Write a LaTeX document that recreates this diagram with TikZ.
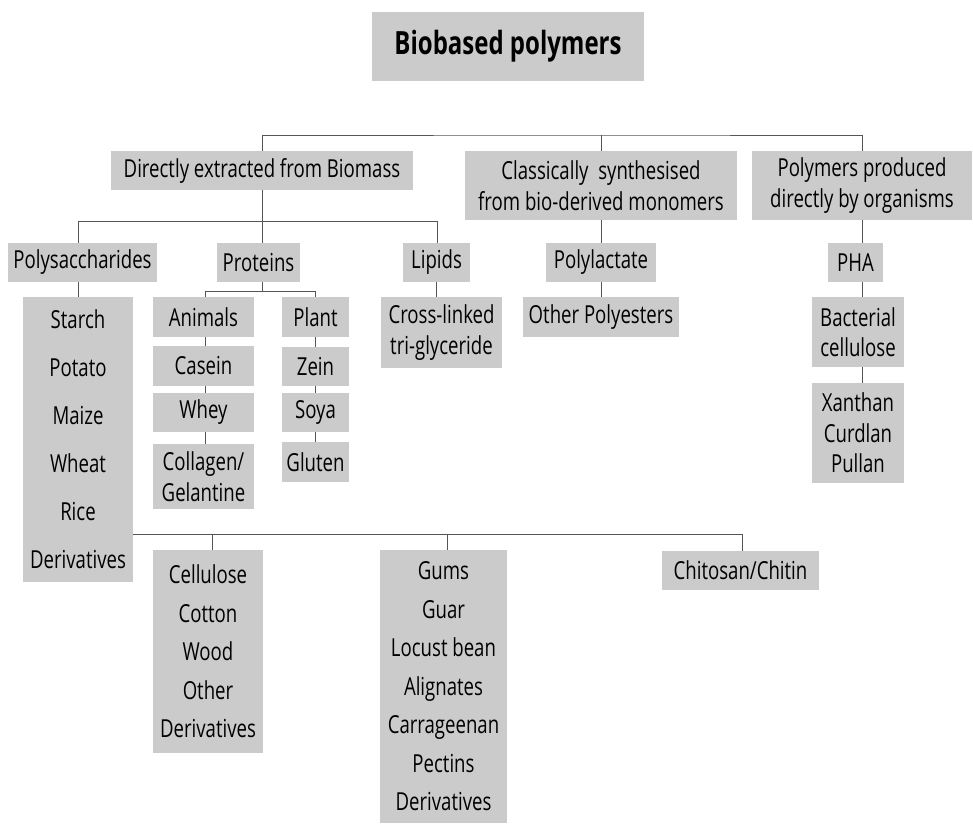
\documentclass[tikz,border=0pt]{standalone}
\usepackage{fontspec}
\setmainfont{Open Sans}[FakeStretch=0.75]
\definecolor{boxgray}{RGB}{203,203,203}
\definecolor{linegray}{RGB}{85,85,85}
\tikzset{
  box/.style={fill=boxgray, inner sep=0pt, align=center},
  link/.style={draw=linegray, line width=1pt},
}
\begin{document}
\begin{tikzpicture}[x=1pt,y=-1pt,font=\fontsize{24.8}{30.5}\selectfont]
  \useasboundingbox (0,0) rectangle (973,823);

  \node[box,minimum width=272,minimum height=69,font=\bfseries\fontsize{32}{36}\selectfont] (title) at (508,46.5) {Biobased polymers};

  \node[box,minimum width=302,minimum height=39] (direct) at (262,170.5) {Directly extracted from Biomass};
  \node[box,minimum width=272,minimum height=69] (classic) at (601,185.5) {Classically\ \ synthesised\\from bio-derived monomers};
  \node[box,minimum width=220,minimum height=69] (organism) at (862,185.5) {Polymers produced\\directly by organisms};

  \node[box,minimum width=149,minimum height=39] (polysac) at (82.5,262.5) {Polysaccharides};
  \node[box,minimum width=83,minimum height=39] (proteins) at (258.5,262.5) {Proteins};
  \node[box,minimum width=67,minimum height=39] (lipids) at (436.5,262.5) {Lipids};
  \node[box,minimum width=110,minimum height=39] (polylactate) at (601,262.5) {Polylactate};
  \node[box,minimum width=55,minimum height=39] (pha) at (855.5,262.5) {PHA};

  \node[box,minimum width=110,minimum height=285] (starch) at (78,439.5) {Starch\\[17.5pt]Potato\\[17.5pt]Maize\\[17.5pt]Wheat\\[17.5pt]Rice\\[17.5pt]Derivatives};
  \node[box,minimum width=101,minimum height=40] (animals) at (203.5,317) {Animals};
  \node[box,minimum width=101,minimum height=40] (casein) at (203.5,366) {Casein};
  \node[box,minimum width=101,minimum height=39] (whey) at (203.5,412.5) {Whey};
  \node[box,minimum width=101,minimum height=65] (collagen) at (203.5,476.5) {Collagen/\\Gelantine};
  \node[box,minimum width=67,minimum height=40] (plant) at (315.5,317) {Plant};
  \node[box,minimum width=67,minimum height=39] (zein) at (315.5,366.5) {Zein};
  \node[box,minimum width=67,minimum height=39] (soya) at (315.5,412.5) {Soya};
  \node[box,minimum width=67,minimum height=40] (gluten) at (315.5,462) {Gluten};
  \node[box,minimum width=121,minimum height=71] (crosslinked) at (441.5,332.5) {Cross-linked\\tri-glyceride};
  \node[box,minimum width=156,minimum height=40] (otherpoly) at (601,317) {Other Polyesters};
  \node[box,minimum width=92,minimum height=70] (bacterial) at (858,332) {Bacterial\\cellulose};
  \node[box,minimum width=92,minimum height=100] (xanthan) at (858,433) {Xanthan\\Curdlan\\Pullan};

  \node[box,minimum width=110,minimum height=203] (cellulose) at (208,651.5) {Cellulose\\[8pt]Cotton\\[8pt]Wood\\[8pt]Other\\[8pt]Derivatives};
  \node[box,minimum width=127,minimum height=273] (gums) at (443.5,686.5) {Gums\\[8pt]Guar\\[8pt]Locust bean\\[8pt]Alignates\\[8pt]Carrageenan\\[8pt]Pectins\\[8pt]Derivatives};
  \node[box,minimum width=157,minimum height=39] (chitosan) at (740.5,570.5) {Chitosan/Chitin};

  % first level
  \coordinate (top) at (601,135);
  \draw[link] (direct.north) |- (top) -| (organism.north);
  \draw[link] (top) -- (classic.north);

  % biomass branch
  \draw[link] (direct.south) -- ++(0,31) coordinate (midA);
  \draw[link] (starch.north |- polysac.north) |- (midA) -| ([xshift=0.5pt]lipids.north);
  \draw[link] (midA) -- (midA |- proteins.north);
  \draw[link] (polysac.south -| starch.north) -- (starch.north);
  \draw[link] (lipids.south) -- (lipids.south |- crosslinked.north);

  % proteins
  \draw[link] (midA |- proteins.south) -- ++(0,9) coordinate (midB);
  \draw[link] ([xshift=1.5pt]animals.north) |- (midB) -| (plant.north);
  \draw[link] ([xshift=1.5pt]animals.south) -- ([xshift=1.5pt]casein.north);
  \draw[link] ([xshift=1.5pt]casein.south) -- ([xshift=1.5pt]whey.north);
  \draw[link] ([xshift=1.5pt]whey.south) -- ([xshift=1.5pt]collagen.north);
  \draw[link] (plant.south) -- (zein.north);
  \draw[link] (zein.south) -- (soya.north);
  \draw[link] (soya.south) -- (gluten.north);

  % synthesised and organisms
  \draw[link] (classic.south) -- (polylactate.north);
  \draw[link] (polylactate.south) -- (otherpoly.north);
  \draw[link] (organism.south) -- (organism.south |- pha.north);
  \draw[link] (organism.south |- pha.south) -- (organism.south |- bacterial.north);
  \draw[link] (organism.south |- bacterial.south) -- (organism.south |- xanthan.north);

  % polysaccharides, second row
  \draw[link] ([yshift=48pt]starch.south east) coordinate (midC) -- ([xshift=1.5pt]chitosan.north |- midC) -- ([xshift=1.5pt]chitosan.north);
  \draw[link] ([xshift=4pt]cellulose.north |- midC) -- ([xshift=4pt]cellulose.north);
  \draw[link] ([xshift=3.5pt]gums.north |- midC) -- ([xshift=3.5pt]gums.north);
\end{tikzpicture}
\end{document}
